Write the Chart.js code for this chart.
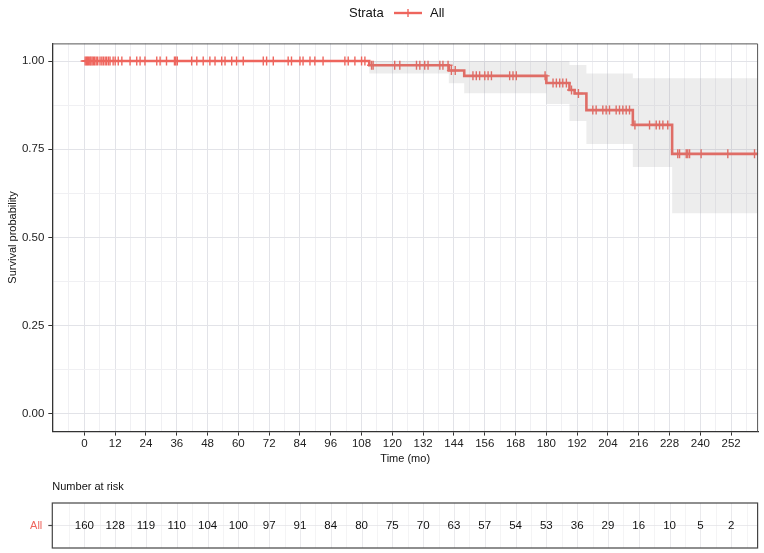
<!DOCTYPE html>
<html lang="en">
<head>
<meta charset="UTF-8">
<title>Kaplan-Meier survival</title>
<script src="https://cdn.jsdelivr.net/npm/chart.js@4.4.4/dist/chart.umd.min.js"></script>
<style>
  html, body { margin: 0; padding: 0; background: #fff; }
  canvas { display: block; }
</style>
</head>
<body>
<canvas id="km" width="764" height="553"></canvas>
<script>
// KM step function (time of each drop, survival after the drop)
const kmTimes = [0, 111, 142, 148, 180, 189, 191, 195.6, 213.7, 229, 262.5];
const kmSurv  = [1, 0.988, 0.973, 0.958, 0.938, 0.918, 0.908, 0.861, 0.819, 0.737, 0.737];
// confidence band, same step times
const ciUpper = [1, 1, 1, 1, 1, 0.989, 0.989, 0.965, 0.951, 0.951, 0.951];
const ciLower = [1, 0.965, 0.937, 0.909, 0.878, 0.83, 0.83, 0.765, 0.70, 0.569, 0.569];

// censored observations (months)
const censorTimes = [
  0.3, 0.8, 1.2, 1.6, 2.1, 2.5, 3.0, 3.5, 4.0, 4.6, 5.2, 6.1, 6.8, 7.4, 8.1, 8.7, 9.4, 10, 11.2, 12,
  13.2, 14.6, 17.8, 20.4, 21.7, 23.6, 28.2, 29.5, 32, 35.1, 35.6, 36.2, 41.8, 43.8, 46.3,
  48.9, 50.9, 53.5, 54.8, 57.4, 59.3, 61.9, 69.7, 71, 73.6, 79.4, 80.7, 84, 85.2, 87.9,
  89.8, 93, 101.5, 102.8, 105.4, 108, 109.3,
  111.9, 112.5, 120.9, 122.9, 129.4, 130.7, 132.6, 133.9, 138.5, 139.7, 141.7,
  143, 144.5,
  151.4, 152.7, 154, 156, 157.3, 158.6, 165.7, 167, 168.3, 179.5,
  182.6, 183.9, 185.2, 186.4, 187.8,
  189.8, 192.5,
  198.1, 199.4, 202, 203.3, 204.6, 207.2, 208.5, 209.8, 211.1, 212.4,
  214.5, 220.2, 222.8, 224.1, 225.4, 227.3,
  231.2, 231.9, 234.5, 235.1, 235.8, 240.3, 250.7, 261.1
];

const xTickLabels = [0, 12, 24, 36, 48, 60, 72, 84, 96, 108, 120, 132, 144, 156, 168, 180, 192, 204, 216, 228, 240, 252];
const yTickLabels = [0, 0.25, 0.5, 0.75, 1];

// number at risk at each x tick
const riskCounts = [160, 128, 119, 110, 104, 100, 97, 91, 84, 80, 75, 70, 63, 57, 54, 53, 36, 29, 16, 10, 5, 2];

const redCol = '#EE655D';
const fontFam = '"Liberation Sans", Arial, sans-serif';

function survAt(t) {
    let s = kmSurv[0];
    for (let i = 0; i < kmTimes.length; i++) {
        if (kmTimes[i] <= t) s = kmSurv[i];
    }
    return s;
}

// grid values: major ticks plus the half-way minor lines
const xGrid = [];
xTickLabels.forEach(v => { xGrid.push(v - 6, v); });
xGrid.push(258);
const yGrid = [];
yTickLabels.forEach((v, i) => { if (i > 0) yGrid.push(v - 0.125); yGrid.push(v); });

const isMajorX = v => xTickLabels.includes(v);
const isMajorY = v => yTickLabels.some(t => Math.abs(t - v) < 1e-9);

// panel edges, legend and risk table
const extras = {
    id: 'extras',
    afterDraw(chart) {
        const { ctx, chartArea: a, scales: { x } } = chart;
        ctx.save();

        // top and right edges of the panel
        ctx.strokeStyle = '#555';
        ctx.lineWidth = 1;
        ctx.beginPath();
        ctx.moveTo(a.left, a.top + 0.5);
        ctx.lineTo(a.right - 0.5, a.top + 0.5);
        ctx.lineTo(a.right - 0.5, a.bottom);
        ctx.stroke();

        // legend
        ctx.font = '13px ' + fontFam;
        ctx.fillStyle = '#111';
        ctx.textBaseline = 'middle';
        ctx.textAlign = 'left';
        ctx.fillText('Strata', 349, 13);
        ctx.strokeStyle = redCol;
        ctx.lineWidth = 2.4;
        ctx.beginPath(); ctx.moveTo(394, 13); ctx.lineTo(422, 13); ctx.stroke();
        ctx.lineWidth = 1.4;
        ctx.beginPath(); ctx.moveTo(408, 9); ctx.lineTo(408, 17); ctx.stroke();
        ctx.fillStyle = '#111';
        ctx.fillText('All', 430, 13);

        // risk table
        const top = 503, bot = 548, mid = 525.5;
        ctx.font = '11px ' + fontFam;
        ctx.fillStyle = '#111';
        ctx.fillText('Number at risk', a.left, 487);

        ctx.lineWidth = 0.8;
        xGrid.forEach(v => {
            const px = Math.round(x.getPixelForValue(v)) + 0.5;
            ctx.strokeStyle = isMajorX(v) ? '#e4e4e8' : '#f1f1f3';
            ctx.beginPath(); ctx.moveTo(px, top); ctx.lineTo(px, bot); ctx.stroke();
        });
        ctx.strokeStyle = '#e4e4e8';
        ctx.beginPath(); ctx.moveTo(a.left, mid); ctx.lineTo(a.right, mid); ctx.stroke();

        ctx.strokeStyle = '#444';
        ctx.lineWidth = 1.2;
        ctx.strokeRect(a.left, top, a.right - a.left - 0.5, bot - top);
        ctx.beginPath(); ctx.moveTo(a.left - 4, mid); ctx.lineTo(a.left, mid); ctx.stroke();

        ctx.textAlign = 'right';
        ctx.fillStyle = redCol;
        ctx.fillText('All', a.left - 10, mid);

        ctx.textAlign = 'center';
        ctx.fillStyle = '#111';
        ctx.font = '11.5px ' + fontFam;
        xTickLabels.forEach((t, i) => {
            ctx.fillText(String(riskCounts[i]), x.getPixelForValue(t), mid);
        });
        ctx.restore();
    }
};

new Chart(document.getElementById('km'), {
    type: 'line',
    data: {
        datasets: [
            {
                label: 'upper',
                data: kmTimes.map((t, i) => ({ x: t, y: ciUpper[i] })),
                stepped: true,
                borderColor: 'transparent',
                borderWidth: 0,
                pointRadius: 0,
                backgroundColor: 'rgba(150,150,150,0.17)',
                fill: '+1'
            },
            {
                label: 'lower',
                data: kmTimes.map((t, i) => ({ x: t, y: ciLower[i] })),
                stepped: true,
                borderColor: 'transparent',
                borderWidth: 0,
                pointRadius: 0,
                fill: false
            },
            {
                label: 'All',
                data: kmTimes.map((t, i) => ({ x: t, y: kmSurv[i] })),
                stepped: true,
                borderColor: redCol,
                borderWidth: 2.6,
                pointRadius: 0,
                fill: false
            },
            {
                type: 'scatter',
                label: 'censor',
                data: censorTimes.map(t => ({ x: t, y: survAt(t) })),
                pointStyle: 'cross',
                pointRadius: 4.5,
                borderColor: redCol,
                borderWidth: 1.4,
                showLine: false
            }
        ]
    },
    options: {
        responsive: false,
        devicePixelRatio: 1,
        animation: false,
        layout: { padding: { left: 6.4, right: 5, top: 43.4, bottom: 87.4 } },
        plugins: {
            legend: { display: false },
            title: { display: false },
            tooltip: { enabled: false }
        },
        scales: {
            x: {
                type: 'linear',
                min: -12.5,
                max: 262.5,
                afterBuildTicks: s => { s.ticks = xGrid.map(v => ({ value: v })); },
                afterFit: s => { s.height = 34; },
                ticks: {
                    autoSkip: false,
                    maxRotation: 0,
                    padding: 1,
                    color: '#222',
                    font: { family: fontFam, size: 11.5 },
                    callback: v => isMajorX(v) ? String(v) : ''
                },
                grid: {
                    color: c => isMajorX(c.tick.value) ? '#e2e3e8' : '#f0f0f3',
                    tickColor: c => isMajorX(c.tick.value) ? '#333' : 'rgba(0,0,0,0)',
                    tickLength: 4
                },
                border: { display: true, color: '#333', width: 1.3 },
                title: { display: true, text: 'Time (mo)', padding: 0, color: '#111', font: { family: fontFam, size: 11 } }
            },
            y: {
                type: 'linear',
                min: -0.05,
                max: 1.05,
                afterBuildTicks: s => { s.ticks = yGrid.map(v => ({ value: v })); },
                afterFit: s => { s.width = 45.9; },
                ticks: {
                    autoSkip: false,
                    padding: 4,
                    color: '#222',
                    font: { family: fontFam, size: 11.5 },
                    callback: v => isMajorY(v) ? v.toFixed(2) : ''
                },
                grid: {
                    color: c => isMajorY(c.tick.value) ? '#e2e3e8' : '#f0f0f3',
                    tickColor: c => isMajorY(c.tick.value) ? '#333' : 'rgba(0,0,0,0)',
                    tickLength: 4
                },
                border: { display: true, color: '#333', width: 1.3 },
                title: { display: true, text: 'Survival probability', padding: 0, color: '#111', font: { family: fontFam, size: 11 } }
            }
        }
    },
    plugins: [extras]
});
</script>
</body>
</html>
